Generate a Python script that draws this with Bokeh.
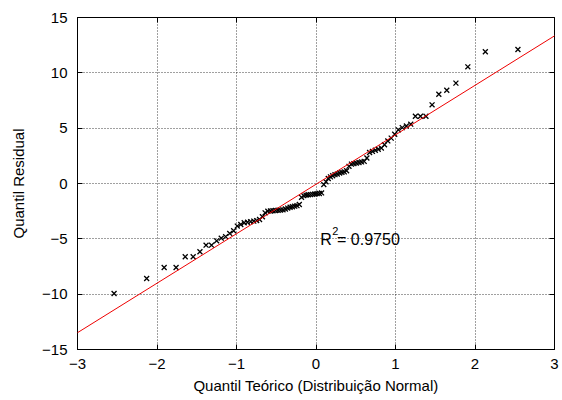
from bokeh.plotting import figure
from bokeh.models import Slope, Label, LinearAxis, FixedTicker, Range1d, ColumnDataSource
from bokeh.embed import file_html
from bokeh.resources import INLINE

# Theoretical quantiles (x) and sorted residuals (y)
theoretical = [
    -2.54, -2.13, -1.91, -1.76, -1.645, -1.545, -1.46, -1.383, -1.314, -1.25,
    -1.192, -1.137, -1.085, -1.036, -0.99, -0.946, -0.903, -0.862, -0.822, -0.783,
    -0.746, -0.71, -0.674, -0.64, -0.606, -0.573, -0.541, -0.508, -0.477, -0.446,
    -0.415, -0.385, -0.356, -0.326, -0.297, -0.268, -0.239, -0.21, -0.182, -0.154,
    -0.126, -0.098, -0.07, -0.042, -0.014, 0.014, 0.042, 0.07, 0.098, 0.126,
    0.154, 0.182, 0.21, 0.239, 0.268, 0.297, 0.326, 0.356, 0.385, 0.415,
    0.446, 0.477, 0.508, 0.541, 0.573, 0.606, 0.64, 0.674, 0.71, 0.746,
    0.783, 0.822, 0.862, 0.903, 0.946, 0.99, 1.036, 1.085, 1.137, 1.192,
    1.25, 1.314, 1.383, 1.46, 1.545, 1.645, 1.76, 1.91, 2.13, 2.54,
]
residual = [
    -9.94, -8.58, -7.59, -7.59, -6.62, -6.62, -6.17, -5.57, -5.57, -5.18,
    -4.94, -4.80, -4.51, -4.27, -3.85, -3.70, -3.55, -3.50, -3.45, -3.40,
    -3.35, -3.25, -3.00, -2.65, -2.50, -2.48, -2.46, -2.44, -2.42, -2.40,
    -2.38, -2.30, -2.22, -2.15, -2.10, -2.05, -2.00, -1.90, -1.25, -1.10,
    -1.05, -1.02, -1.00, -0.98, -0.95, -0.92, -0.90, -0.85, -0.10, 0.15,
    0.45, 0.60, 0.70, 0.80, 0.85, 0.95, 1.00, 1.05, 1.15, 1.55,
    1.75, 1.80, 1.85, 1.90, 1.95, 2.00, 2.30, 2.80, 2.90, 3.00,
    3.10, 3.20, 3.50, 3.85, 4.10, 4.45, 4.85, 5.05, 5.20, 5.36,
    6.08, 6.08, 6.08, 7.11, 8.07, 8.43, 9.07, 10.54, 11.90, 12.11,
]

# Fitted reference line
fit_slope = 4.47
fit_intercept = -0.07
r2_text = "0.9750"

x_ticks = [-3, -2, -1, 0, 1, 2, 3]
x_tick_labels = ["\u22123", "\u22122", "\u22121", "0", "1", "2", "3"]
y_ticks = [-15, -10, -5, 0, 5, 10, 15]
y_tick_labels = ["\u221215", "\u221210", "\u22125", "0", "5", "10", "15"]

x_title = "Quantil Te\u00f3rico (Distribui\u00e7\u00e3o Normal)"
y_title = "Quantil Residual"

FONT = "Liberation Sans"

p = figure(width=562, height=400, x_range=Range1d(-3, 3), y_range=Range1d(-15, 15),
           output_backend="svg", toolbar_location=None,
           min_border_left=77, min_border_right=8, min_border_top=17, min_border_bottom=51)
p.background_fill_color = "white"
p.border_fill_color = "white"
p.outline_line_color = "black"
p.outline_line_width = 1
p.outline_line_alpha = 1

for ax, ticks, labels in ((p.xaxis[0], x_ticks, x_tick_labels), (p.yaxis[0], y_ticks, y_tick_labels)):
    ax.ticker = FixedTicker(ticks=ticks)
    ax.major_label_overrides = {t: l for t, l in zip(ticks, labels)}
    ax.major_tick_in = 5
    ax.major_tick_out = 0
    ax.minor_tick_line_color = None
    ax.axis_line_color = "black"
    ax.major_tick_line_color = "black"
    ax.major_label_text_font = FONT
    ax.major_label_text_font_size = "15px"
    ax.major_label_text_color = "black"
    ax.axis_label_text_font = FONT
    ax.axis_label_text_font_size = "15px"
    ax.axis_label_text_font_style = "normal"
    ax.axis_label_text_color = "black"

p.xaxis[0].axis_label = x_title
p.yaxis[0].axis_label = y_title
p.xaxis[0].major_label_standoff = 9
p.xaxis[0].axis_label_standoff = 5
p.yaxis[0].major_label_standoff = 10
p.yaxis[0].axis_label_standoff = 12

# mirrored tick marks on top and right
for loc, ticks in (("right", y_ticks), ("above", x_ticks)):
    ax = LinearAxis(ticker=FixedTicker(ticks=ticks), major_tick_in=5, major_tick_out=0,
                    minor_tick_line_color=None, axis_line_color=None,
                    major_label_text_font_size="0px", major_label_standoff=0,
                    major_tick_line_color="black")
    ax.major_label_overrides = {t: "" for t in ticks}
    p.add_layout(ax, loc)

p.xgrid.ticker = FixedTicker(ticks=x_ticks)
p.ygrid.ticker = FixedTicker(ticks=y_ticks)
for g in (p.xgrid[0], p.ygrid[0]):
    g.grid_line_color = "black"
    g.grid_line_dash = "1 2"
    g.grid_line_alpha = 0.75
    g.grid_line_width = 1

p.add_layout(Slope(gradient=fit_slope, y_intercept=fit_intercept, line_color="#ee0000", line_width=1))

src = ColumnDataSource(dict(x=theoretical, y=residual))
p.scatter("x", "y", source=src, marker="x", size=7, line_color="black", line_width=1.3)

p.add_layout(Label(x=0.053, y=-5.02, text="R", text_font=FONT, text_font_size="16px",
                   text_color="black", text_baseline="alphabetic"))
p.add_layout(Label(x=0.205, y=-4.3, text="2", text_font=FONT, text_font_size="11px",
                   text_color="black", text_baseline="alphabetic"))
p.add_layout(Label(x=0.265, y=-5.02, text="= " + r2_text, text_font=FONT, text_font_size="16px",
                   text_color="black", text_baseline="alphabetic"))

open("out.html", "w").write(file_html(p, INLINE))
